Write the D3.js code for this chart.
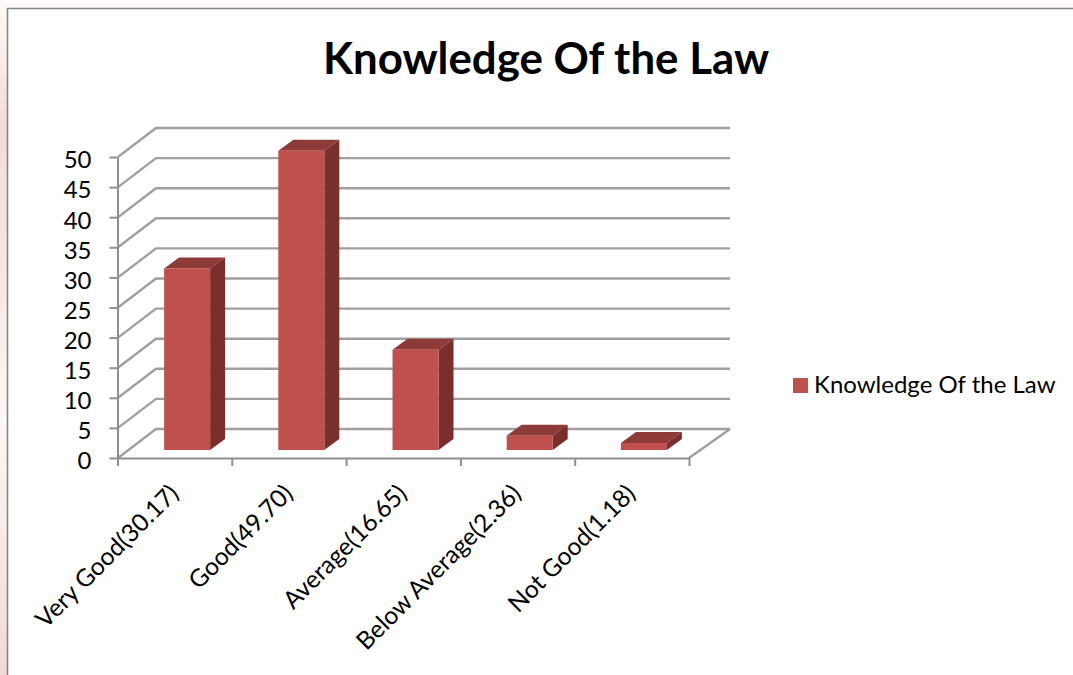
<!DOCTYPE html>
<html><head><meta charset="utf-8">
<script src="https://cdn.jsdelivr.net/npm/d3@7"></script>
<style>html,body{margin:0;padding:0;background:#fff;overflow:hidden}svg{display:block}text{font-family:Lato,"Open Sans",sans-serif;fill:#000}</style>
</head><body><svg id="c" width="1073" height="675"></svg>
<script>
const categories = ["Very Good(30.17)","Good(49.70)","Average(16.65)","Below Average(2.36)","Not Good(1.18)"];
const values = [30.17,49.70,16.65,2.36,1.18];
const yTicks = [0,5,10,15,20,25,30,35,40,45,50];
const seriesName = "Knowledge Of the Law";
const titleText = "Knowledge Of the Law";

const svg = d3.select("#c");
const defs = svg.append("defs");
const g = defs.append("linearGradient").attr("id","edge").attr("x1",0).attr("x2",0).attr("y1",0).attr("y2",1);
[[0,"#fdf9f7"],[0.06,"#fbf1ee"],[0.18,"#f1dcdc"],[0.4,"#f6e6e6"],[0.62,"#fdf6f6"],[0.8,"#f7e9e9"],[1,"#f0d9d9"]]
  .forEach(([o,c])=>g.append("stop").attr("offset",o).attr("stop-color",c));
svg.append("rect").attr("width",7).attr("height",675).attr("fill","url(#edge)");
svg.append("rect").attr("width",1073).attr("height",8).attr("fill","#fefafa");
svg.append("path").attr("d","M7.5,675V8.5H1073").attr("fill","none").attr("stroke","#868686").attr("stroke-width",1.6);

const x = d3.scaleBand().domain(categories).range([118,689]);
const xEdge = d3.scaleLinear().domain([0,categories.length]).range([117.5,689]);
const y = d3.scaleLinear().domain([0,50]).range([458,157]);
const depth = {dx:38, dy:-29};
const barFront = {dx:12, dy:-8};
const barDepth = {dx:15, dy:-11};
const barWidth = 46;

// walls / gridlines
const grid = svg.append("g").attr("fill","none").attr("stroke","#a0a0a0").attr("stroke-width",2.4);
grid.selectAll("path").data(yTicks).join("path")
  .attr("d",v=>`M${x.range()[0]},${y(v)}L${x.range()[0]+depth.dx},${y(v)+depth.dy}H730`);
grid.append("path").attr("d",`M689,${y(0)}L730,${y(0)+depth.dy}`);

// bars
const bars = svg.append("g").selectAll("g").data(categories.map((c,i)=>({c,v:values[i]}))).join("g")
  .attr("transform",d=>`translate(${x(d.c)+x.bandwidth()/2+barFront.dx-barWidth/2},${barFront.dy})`);
bars.append("path").attr("fill","#8e3a38")
  .attr("d",d=>`M0,${y(d.v)}l${barDepth.dx},${barDepth.dy}h${barWidth}l${-barDepth.dx},${-barDepth.dy}z`);
bars.append("path").attr("fill","#7b2f2d")
  .attr("d",d=>`M${barWidth},${y(d.v)}l${barDepth.dx},${barDepth.dy}V${y(0)+barDepth.dy}l${-barDepth.dx},${-barDepth.dy}z`);
bars.append("rect").attr("fill","#c0504d").attr("width",barWidth)
  .attr("y",d=>y(d.v)).attr("height",d=>y(0)-y(d.v));

// axes
const yAxis = svg.append("g").attr("transform","translate(117.5,0)")
  .call(d3.axisLeft(y).tickValues(yTicks).tickSize(8).tickPadding(18).tickSizeOuter(0));
yAxis.selectAll("text").attr("font-size",24).attr("dy","0.45em").style("font-family","Lato");
const xTicks = svg.append("g").attr("transform",`translate(0,${y(0)})`)
  .call(d3.axisBottom(xEdge).ticks(categories.length).tickSize(8).tickSizeOuter(0).tickFormat(""));
[yAxis,xTicks].forEach(a=>{a.selectAll("path,line").attr("stroke","#8f8f8f").attr("stroke-width",2);});
const xLabels = svg.append("g").attr("transform",`translate(0,${y(0)})`)
  .call(d3.axisBottom(x).tickSize(0).tickPadding(0));
xLabels.select(".domain").remove();
xLabels.selectAll("text").attr("font-size",24.5).attr("text-anchor","end")
  .attr("dy",0).attr("y",0).attr("transform","translate(5,37) rotate(-45)");

// title
svg.append("text").attr("x",546).attr("y",74).attr("text-anchor","middle")
  .attr("font-size",43.8).attr("font-weight",700).text(titleText);

// legend
svg.append("rect").attr("x",793).attr("y",378).attr("width",15).attr("height",15).attr("fill","#c0504d");
svg.append("text").attr("x",814).attr("y",393).attr("font-size",24).text(seriesName);
</script></body></html>
